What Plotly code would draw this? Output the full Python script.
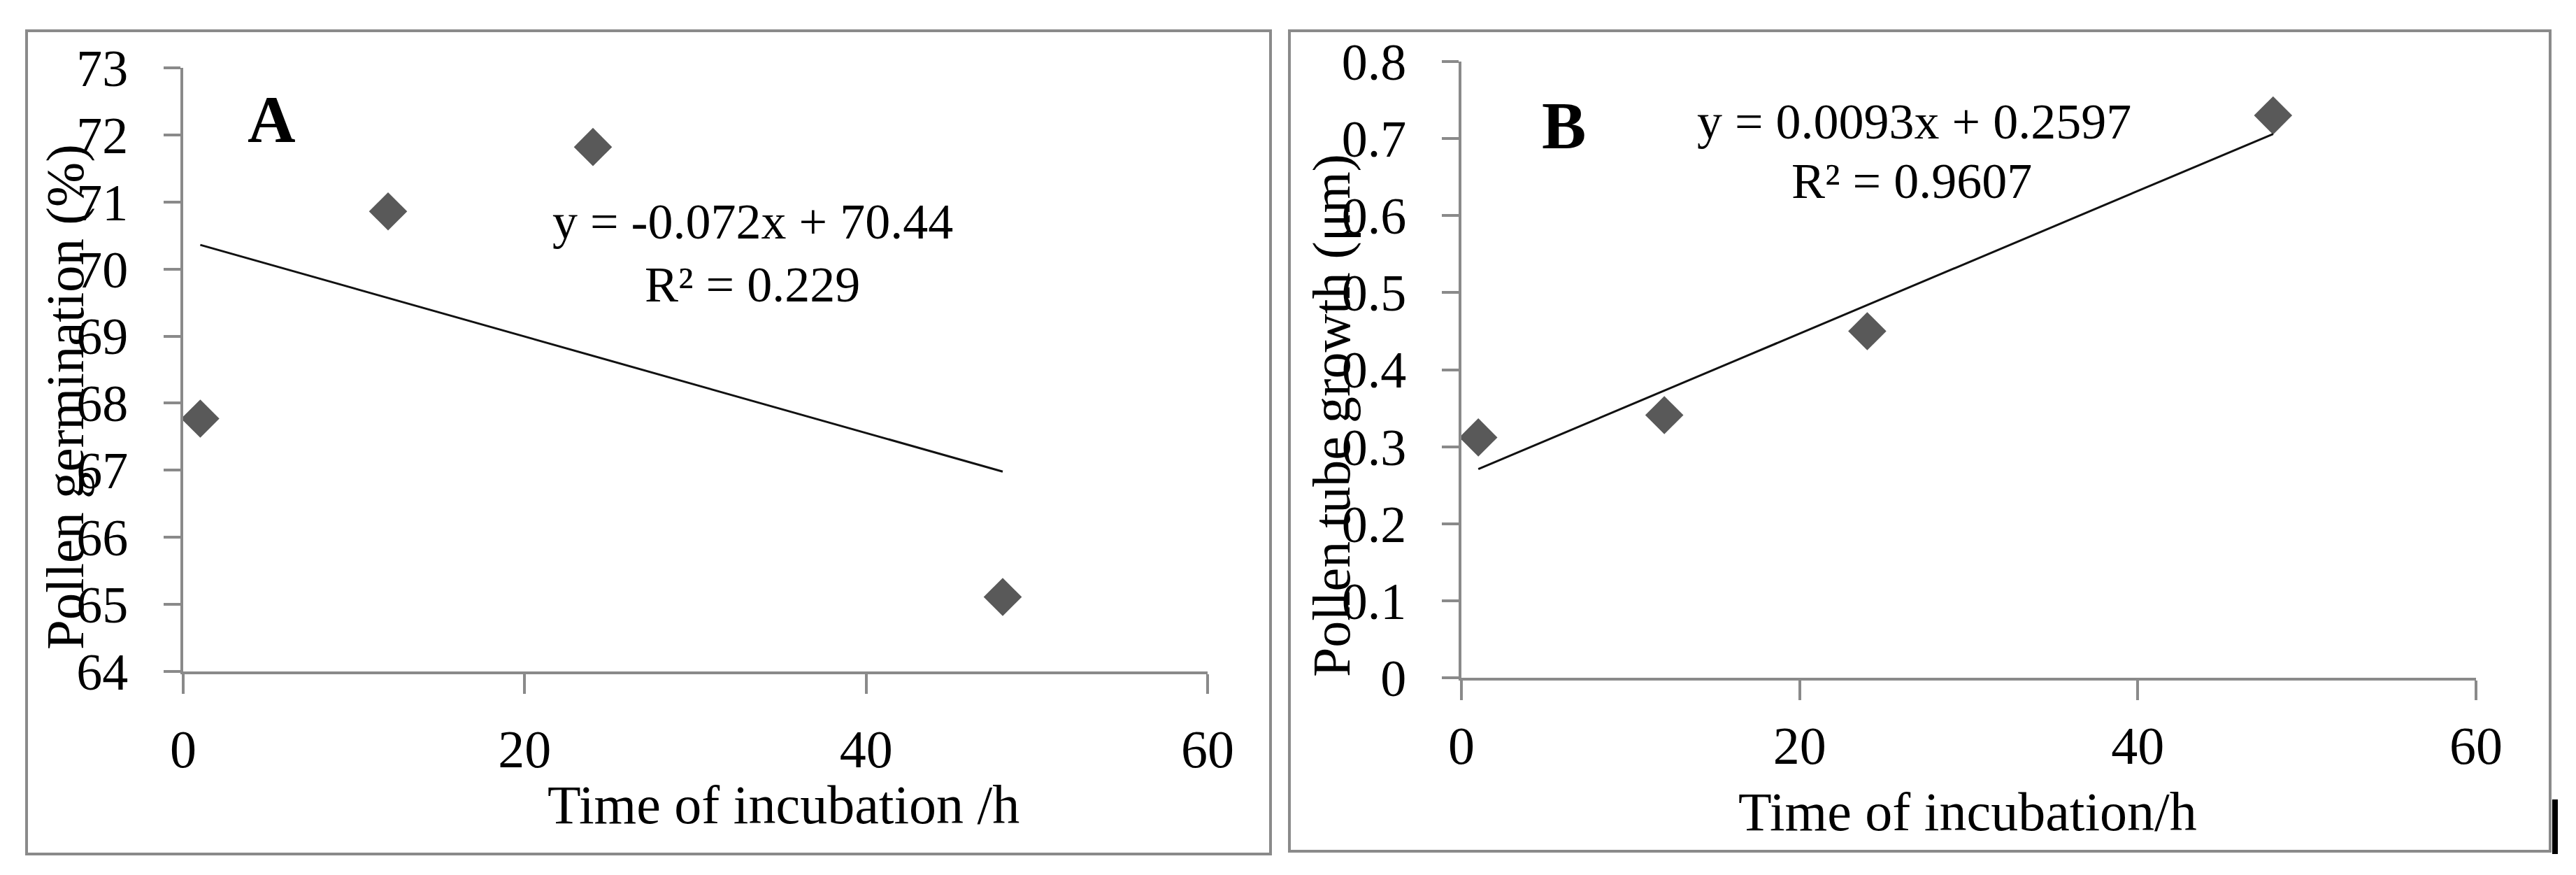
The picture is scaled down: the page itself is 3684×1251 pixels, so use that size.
import plotly.graph_objects as go

# panel A: pollen germination
hours_a = [1, 12, 24, 48]
germination = [67.77, 70.86, 71.82, 65.11]
trend_a_x = [1, 48]
trend_a_y = [70.36, 66.98]

# panel B: pollen tube growth
hours_b = [1, 12, 24, 48]
tube_growth = [0.312, 0.341, 0.450, 0.730]
trend_b_x = [1, 48]
trend_b_y = [0.271, 0.706]

W, H = 3684, 1251
FONT = 'Liberation Serif'
GRAY = '#8a8a8a'
MARK = '#595959'


def px(x):
    return x / W


def py(y):
    return 1 - y / H


fig = go.Figure()

fig.add_trace(go.Scatter(x=hours_a, y=germination, mode='markers',
                         marker=dict(symbol='diamond', size=42, color=MARK),
                         xaxis='x', yaxis='y', showlegend=False))
fig.add_trace(go.Scatter(x=trend_a_x, y=trend_a_y, mode='lines',
                         line=dict(color='#111111', width=3),
                         xaxis='x', yaxis='y', showlegend=False))
fig.add_trace(go.Scatter(x=hours_b, y=tube_growth, mode='markers',
                         marker=dict(symbol='diamond', size=42, color=MARK),
                         xaxis='x2', yaxis='y2', showlegend=False))
fig.add_trace(go.Scatter(x=trend_b_x, y=trend_b_y, mode='lines',
                         line=dict(color='#111111', width=3),
                         xaxis='x2', yaxis='y2', showlegend=False))

axis_common = dict(showgrid=False, zeroline=False, showline=True, linecolor=GRAY,
                   linewidth=4, ticks='outside', tickcolor=GRAY, tickwidth=4,
                   automargin=False)
x_font = dict(family=FONT, size=76, color='black')
y_font = dict(family=FONT, size=74, color='black')

fig.update_layout(
    template='none',
    width=W, height=H,
    margin=dict(l=0, r=0, t=0, b=0, pad=0, autoexpand=False),
    paper_bgcolor='white', plot_bgcolor='white',
    showlegend=False,
    xaxis=dict(domain=[px(254), px(1719)], range=[0, 60], dtick=20, ticklen=28,
               ticklabelstandoff=14, tickfont=x_font, anchor='y', **axis_common),
    yaxis=dict(domain=[py(952), py(89)], range=[64, 73], dtick=1, ticklen=24,
               ticklabelstandoff=36, tickfont=y_font, anchor='x', **axis_common),
    xaxis2=dict(domain=[px(2082), px(3533)], range=[0, 60], dtick=20, ticklen=28,
                ticklabelstandoff=0, tickfont=x_font, anchor='y2', **axis_common),
    yaxis2=dict(domain=[py(961), py(80)], range=[0, 0.8], dtick=0.1, ticklen=24,
                ticklabelstandoff=36, tickfont=y_font, anchor='x2', **axis_common),
)

# outer frames around each panel
fig.add_shape(type='rect', xref='paper', yref='paper', x0=px(30), x1=px(1809),
              y0=py(1213), y1=py(36), line=dict(color=GRAY, width=4))
fig.add_shape(type='rect', xref='paper', yref='paper', x0=px(1836), x1=px(3639),
              y0=py(1209), y1=py(36), line=dict(color=GRAY, width=4))
fig.add_shape(type='rect', xref='paper', yref='paper', x0=px(3642), x1=px(3650),
              y0=py(1213), y1=py(1135), fillcolor='black', line=dict(width=0))


def note(text, x, y, size=72, bold=False, angle=0):
    if bold:
        text = '<b>' + text + '</b>'
    fig.add_annotation(text=text, x=px(x), y=py(y), xref='paper', yref='paper',
                       showarrow=False, textangle=angle,
                       xanchor='center', yanchor='middle',
                       font=dict(family=FONT, size=size, color='black'))


note('A', 380, 163, size=95, bold=True)
note('y = -0.072x + 70.44', 1068, 309)
note('R² = 0.229', 1068, 399)
note('Pollen germination (%)', 85, 560, size=77, angle=-90)
note('Time of incubation /h', 1112, 1142, size=78)

note('B', 2228, 172, size=95, bold=True)
note('y = 0.0093x + 0.2597', 2729, 166)
note('R² = 0.9607', 2726, 251)
note('Pollen tube growth (μm)', 1896, 586, size=76, angle=-90)
note('Time of incubation/h', 2806, 1152, size=78)

fig.write_html('out.html')
